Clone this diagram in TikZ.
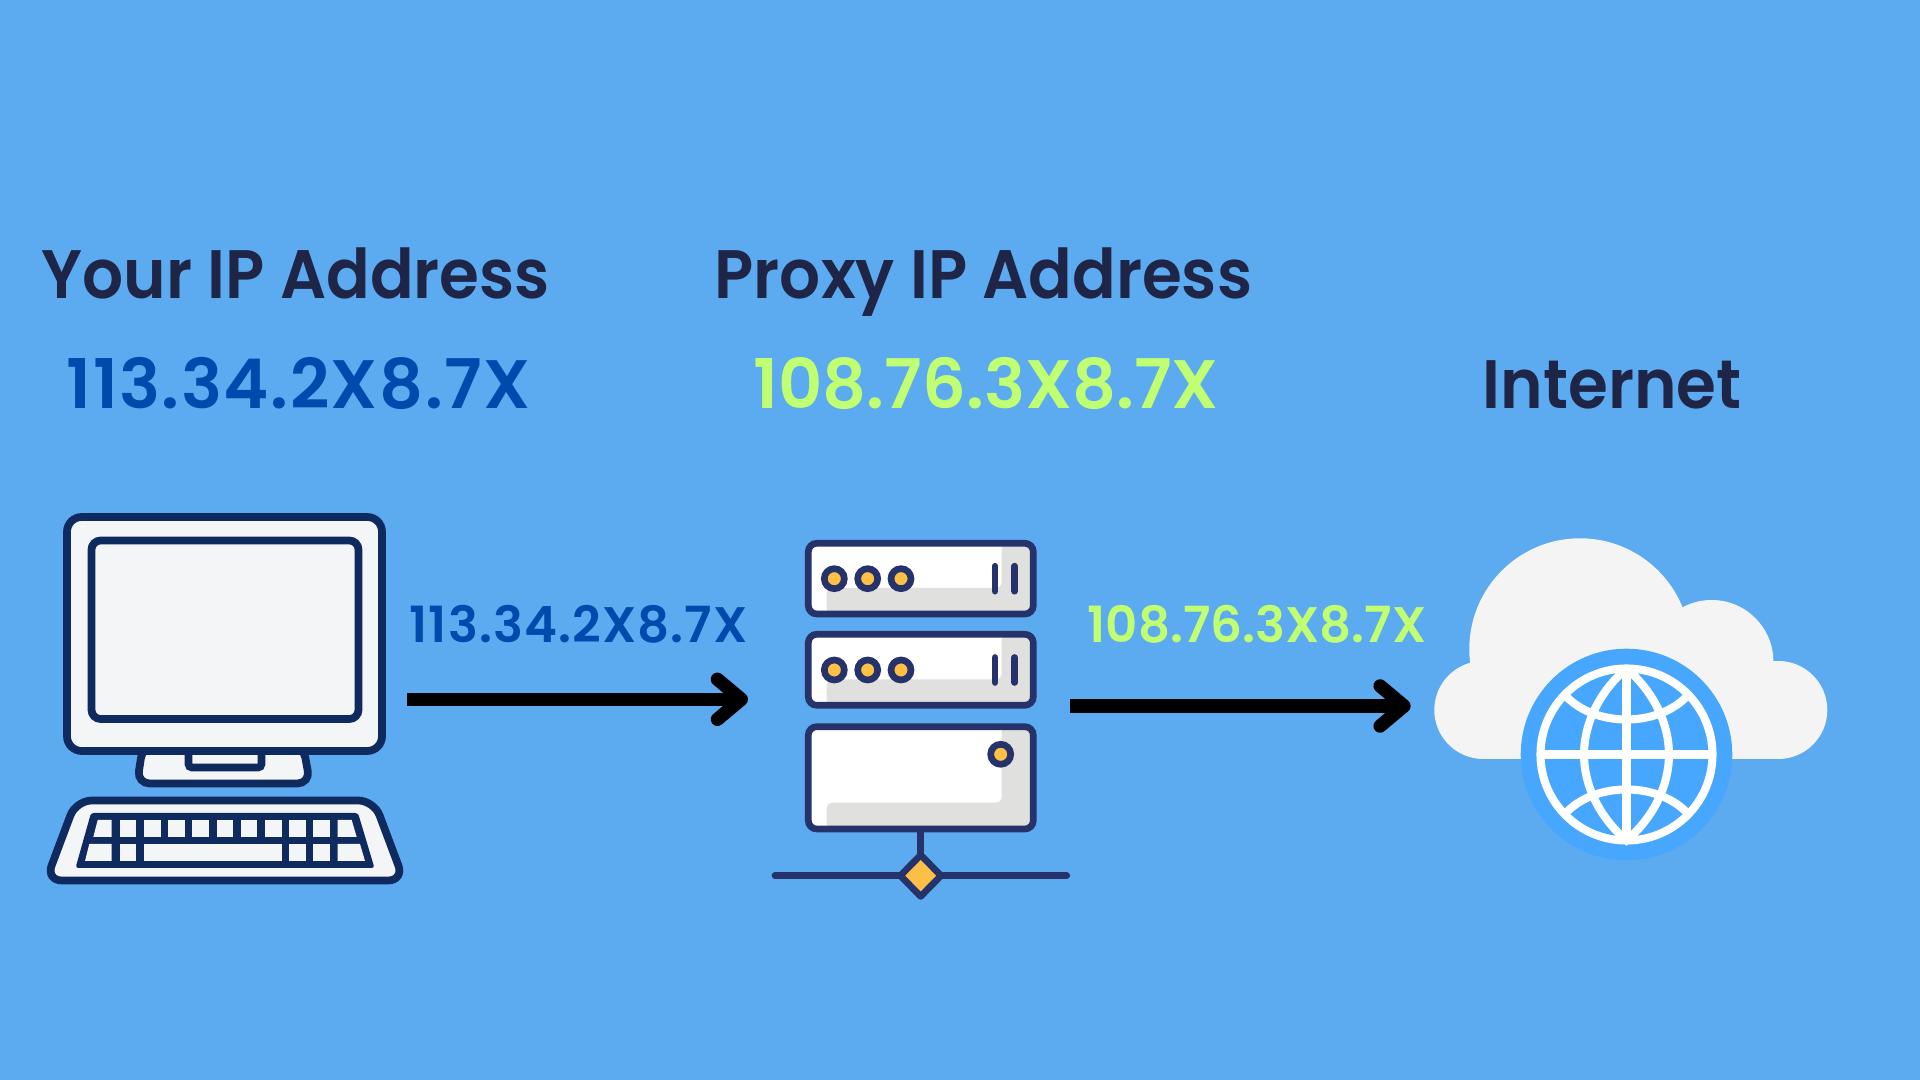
\documentclass[tikz,border=0pt]{standalone}
\usepackage{fontspec}
\setmainfont{Poppins SemiBold}
\newfontfamily\headfont{Poppins SemiBold}[FakeStretch=0.94]
\newfontfamily\spacedfont{Poppins SemiBold}[LetterSpace=2.2]
\usepackage{xcolor}
\usetikzlibrary{arrows.meta}
\definecolor{skyblue}{RGB}{92,170,239}
\definecolor{inkblue}{RGB}{31,37,71}
\definecolor{addrblue}{RGB}{0,74,173}
\definecolor{addrgreen}{RGB}{193,255,114}
\definecolor{pcnavy}{RGB}{14,42,94}
\definecolor{pcpaper}{RGB}{244,245,247}
\definecolor{rackblue}{RGB}{37,51,106}
\definecolor{rackgold}{RGB}{253,191,69}
\definecolor{rackgray}{RGB}{224,224,223}
\definecolor{cloudgray}{RGB}{244,244,244}
\definecolor{globeblue}{RGB}{71,167,255}

\begin{document}
\begin{tikzpicture}[
  x=0.01cm, y=-0.01cm,
  heading/.style={anchor=base west, inner sep=0pt, font=\headfont\fontsize{19.5}{19.5}\selectfont, color=inkblue},
  bigaddr/.style={anchor=base west, inner sep=0pt, font=\fontsize{19.5}{19.5}\selectfont},
  smalladdr/.style={anchor=base west, inner sep=0pt, font=\fontsize{14.2}{14.2}\selectfont},
  pcline/.style={draw=pcnavy, line width=2.2pt, fill=pcpaper, rounded corners=3.6pt},
  pckey/.style={fill=pcpaper},
  rackbox/.style={draw=rackblue, line width=1.9pt, rounded corners=2.4pt},
  rackshade/.style={fill=rackgray, rounded corners=1.5pt},
  rackdot/.style={draw=rackblue, line width=1.9pt, fill=rackgold},
  rackline/.style={draw=rackblue, line width=1.9pt, line cap=round},
  globeline/.style={draw=white, line width=2.3pt},
  arr/.style={-{Straight Barb[length=6.8pt, width=11.4pt, round]}, line width=3.8pt, color=black}
]
  \fill[skyblue] (0,0) rectangle (1920,1080);
  \useasboundingbox (0,0) rectangle (1920,1080);

  \node[heading] (youtitle) at (41,299) {Your IP Address};
  \node[heading] (proxytitle) at (714,299) {Proxy IP Address};
  \node[heading] (nettitle) at (1482,409) {Internet};
  \node[bigaddr, color=addrblue] (youaddr) at (66,409) {\spacedfont 113.34.2X8.7X};
  \node[bigaddr, color=addrgreen] (proxyaddr) at (753,409) {108.76.3X8.7X};
  \node[smalladdr, color=addrblue] (youlbl) at (409,642.7) {\spacedfont 113.34.2X8.7X};
  \node[smalladdr, color=addrgreen] (proxylbl) at (1087,642.7) {108.76.3X8.7X};

  % computer
  \draw[pcline] (143,745) -- (137,783.5) -- (310,783.5) -- (303,745) -- cycle;
  \draw[pcline, rounded corners=1pt] (188.5,750) -- (188.5,767.5) -- (261.5,767.5) -- (261.5,750);
  \draw[pcline, rounded corners=4.2pt] (67,517) rectangle (382,751);
  \draw[pcline, rounded corners=2.6pt] (91.5,540.5) rectangle (358.5,719);
  \draw[pcline, rounded corners=4.5pt] (76,800.5) -- (374,800.5) -- (404,880.5) -- (46,880.5) -- cycle;
  \fill[pcnavy, rounded corners=0.8pt] (91,813) -- (358,813) -- (374.5,868) -- (75.5,868) -- cycle;
  \fill[pckey] (97.7,820) -- (111.7,820) -- (111.7,837) -- (93.3,837) -- cycle;
  \foreach \xa/\xb in {120/136, 144/160.7, 168/184.7, 192.3/209, 216.7/233.3, 240.7/257.3, 265/281.7, 289.3/306, 313.3/330}
    \fill[pckey] (\xa,820) rectangle (\xb,837);
  \fill[pckey] (337.7,820) -- (351.7,820) -- (356.7,837) -- (337.7,837) -- cycle;
  \fill[pckey] (89.3,844) -- (111.7,844) -- (111.7,861) -- (85,861) -- cycle;
  \foreach \xa/\xb in {120/136, 144/281.7, 289.3/306, 313.3/330}
    \fill[pckey] (\xa,844) rectangle (\xb,861);
  \fill[pckey] (337.7,844) -- (360,844) -- (365,861) -- (337.7,861) -- cycle;

  % proxy server
  \draw[rackline] (775,875.7) -- (1066.7,875.7);
  \draw[rackline] (920.7,829) -- (920.7,860);
  \foreach \top/\bot/\shade in {543.3/614/588, 634.3/705.3/679.3, 726.7/829/802.7} {
    \fill[white, rounded corners=2.4pt] (808.3,\top) rectangle (1033.3,\bot);
    \fill[rackshade] (1001.7,\top) -- (1030.5,\top) -- (1030.5,\bot) -- (826.7,\bot) -- (826.7,\shade) -- (1001.7,\shade) -- cycle;
    \draw[rackbox] (808.3,\top) rectangle (1033.3,\bot);
  }
  \foreach \y in {578.7, 670} {
    \foreach \x in {834.3, 867.7, 901}
      \draw[rackdot] (\x,\y) circle (10);
    \draw[rackline] (995,\y-12.5) -- (995,\y+12.5);
    \draw[rackline] (1014.7,\y-12.5) -- (1014.7,\y+12.5);
  }
  \draw[rackdot] (1000.7,754.3) circle (10);
  \draw[rackdot, line join=round] (920.7,855) -- (941,875.7) -- (920.7,896.4) -- (900.4,875.7) -- cycle;

  % cloud with globe
  \fill[cloudgray] (1580,649) circle (110.7);
  \fill[cloudgray] (1711.7,661.7) circle (61.7);
  \fill[cloudgray] (1778.3,710) circle (49);
  \fill[cloudgray] (1483.3,710) circle (49);
  \fill[cloudgray] (1483.3,690) rectangle (1778.3,759);
  \begin{scope}[shift={(1626.5,754.5)}]
    \fill[globeblue] (0,0) circle (105.8);
    \draw[globeline] (0,0) circle (86);
    \draw[globeline] (-86,0) -- (86,0) (0,-86) -- (0,86);
    \draw[globeline] (0,-86) .. controls (-28,-62) and (-42.5,-30) .. (-42.5,0)
      .. controls (-42.5,30) and (-28,62) .. (0,86)
      .. controls (28,62) and (42.5,30) .. (42.5,0)
      .. controls (42.5,-30) and (28,-62) .. (0,-86);
    \draw[globeline] (-60,-57.7) .. controls (-30,-27.4) and (30,-27.4) .. (60,-57.7);
    \draw[globeline] (-60,57.7) .. controls (-30,27.4) and (30,27.4) .. (60,57.7);
  \end{scope}

  % arrows
  \coordinate (pcout) at (407.3,699.3);
  \coordinate (proxyin) at (748,699.3);
  \coordinate (proxyout) at (1070,706);
  \coordinate (cloudin) at (1410.7,706);
  \draw[arr] (pcout) -- (proxyin);
  \draw[arr] (proxyout) -- (cloudin);
\end{tikzpicture}
\end{document}
